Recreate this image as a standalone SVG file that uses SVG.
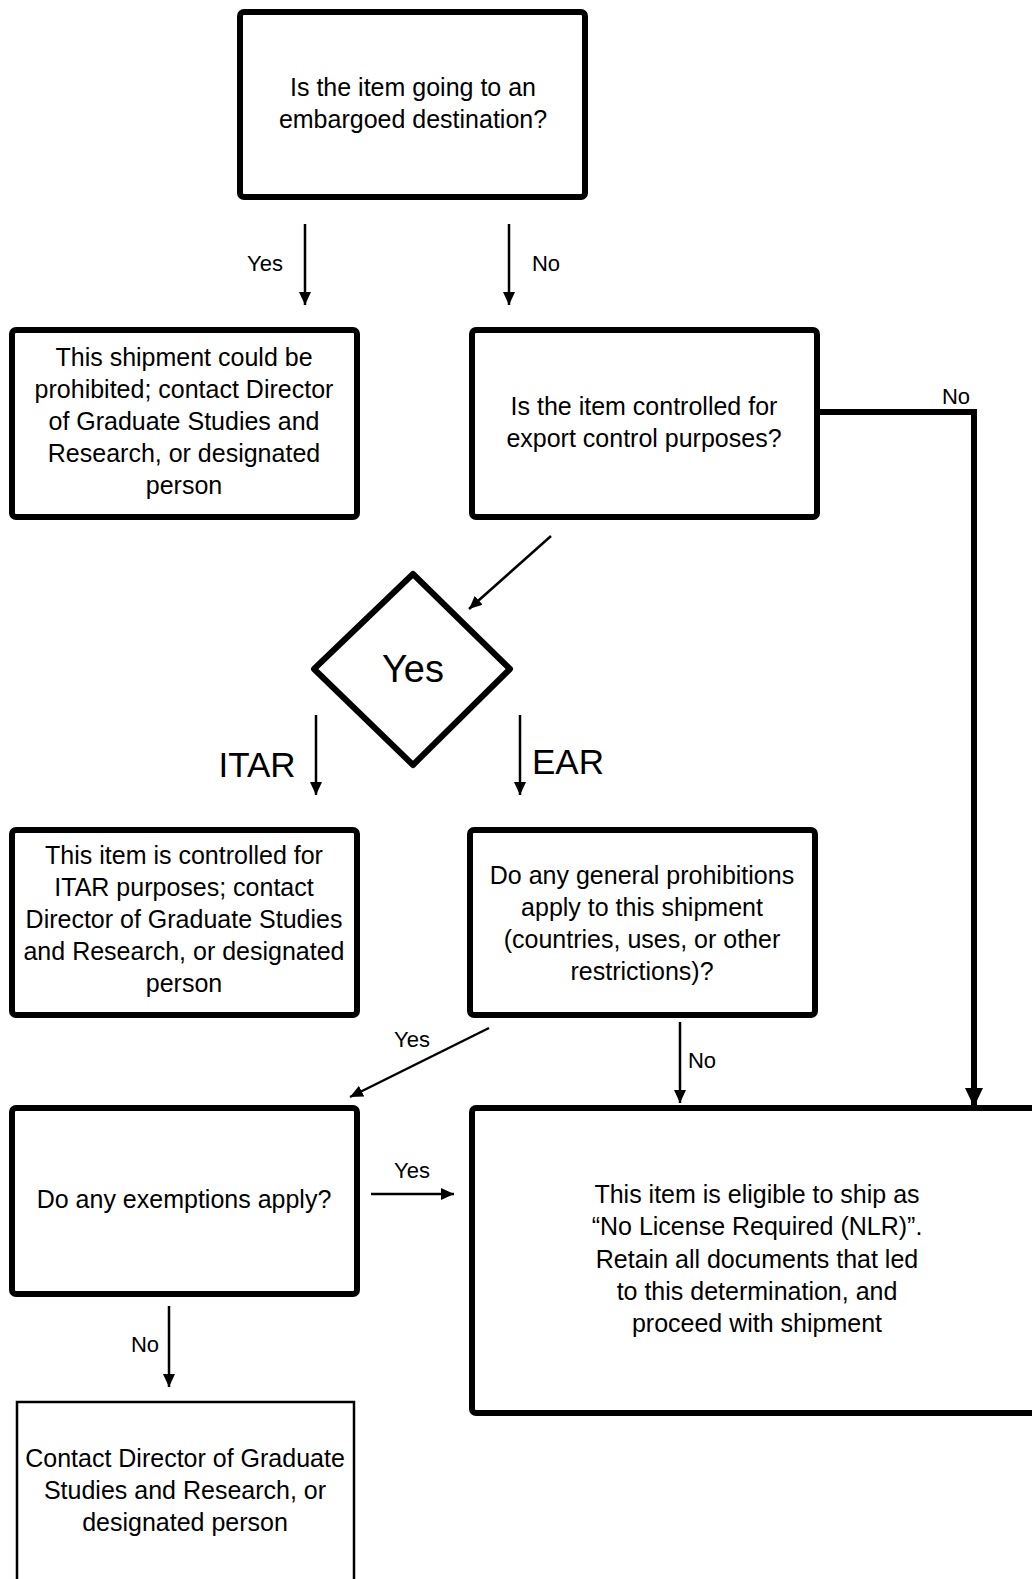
<svg xmlns="http://www.w3.org/2000/svg" width="1032" height="1579" viewBox="0 0 1032 1579">
<style>
.box{fill:#fff;stroke:#000;stroke-width:6;stroke-linejoin:round}
.thinbox{fill:#fff;stroke:#000;stroke-width:2.5}
.t{font-family:"Liberation Sans",Arial,sans-serif;font-size:25px;fill:#000;text-anchor:middle}
.lbl{font-family:"Liberation Sans",Arial,sans-serif;font-size:22px;fill:#000;text-anchor:middle}
.big{font-family:"Liberation Sans",Arial,sans-serif;font-size:35px;fill:#000;text-anchor:middle}
.c{fill:none;stroke:#000;stroke-width:2.5}
.ck{fill:none;stroke:#000;stroke-width:6}
</style>
<defs>
<marker id="ah" markerUnits="userSpaceOnUse" markerWidth="14" markerHeight="14" viewBox="0 0 14 14" refX="13" refY="7" orient="auto">
<path d="M0,1 L13,7 L0,13 Z" fill="#000"/>
</marker>
<marker id="ahk" markerUnits="userSpaceOnUse" markerWidth="20" markerHeight="20" viewBox="0 0 20 20" refX="19" refY="10" orient="auto">
<path d="M0,1 L19,10 L0,19 Z" fill="#000"/>
</marker>
</defs>

<g id="connectors">
<line class="c" x1="305" y1="224" x2="305" y2="305" marker-end="url(#ah)"/>
<line class="c" x1="509" y1="224" x2="509" y2="305" marker-end="url(#ah)"/>
<polyline class="ck" points="817,412 974,412 974,1107" marker-end="url(#ahk)"/>
<line class="c" x1="551" y1="536" x2="469" y2="609" marker-end="url(#ah)"/>
<line class="c" x1="316" y1="715" x2="316" y2="795" marker-end="url(#ah)"/>
<line class="c" x1="520" y1="715" x2="520" y2="795" marker-end="url(#ah)"/>
<line class="c" x1="489" y1="1028" x2="350" y2="1097" marker-end="url(#ah)"/>
<line class="c" x1="680" y1="1022" x2="680" y2="1103" marker-end="url(#ah)"/>
<line class="c" x1="371" y1="1194" x2="454" y2="1194" marker-end="url(#ah)"/>
<line class="c" x1="169" y1="1306" x2="169" y2="1387" marker-end="url(#ah)"/>
<text class="lbl" x="265" y="271">Yes</text>
<text class="lbl" x="546" y="271">No</text>
<text class="lbl" x="956" y="404">No</text>
<text class="big" x="257" y="777">ITAR</text>
<text class="big" x="568" y="774">EAR</text>
<text class="lbl" x="412" y="1047">Yes</text>
<text class="lbl" x="702" y="1068">No</text>
<text class="lbl" x="412" y="1178">Yes</text>
<text class="lbl" x="145" y="1352">No</text>
</g>

<g id="n1">
<rect class="box" x="240" y="12" width="345" height="185" rx="4"/>
<text class="t" x="413" y="96">Is the item going to an</text>
<text class="t" x="413" y="128">embargoed destination?</text>
</g>

<g id="n2">
<rect class="box" x="12" y="330" width="345" height="187" rx="4"/>
<text class="t" x="184" y="366">This shipment could be</text>
<text class="t" x="184" y="398">prohibited; contact Director</text>
<text class="t" x="184" y="430">of Graduate Studies and</text>
<text class="t" x="184" y="462">Research, or designated</text>
<text class="t" x="184" y="494">person</text>
</g>

<g id="n3">
<rect class="box" x="472" y="330" width="345" height="187" rx="4"/>
<text class="t" x="644" y="415">Is the item controlled for</text>
<text class="t" x="644" y="447">export control purposes?</text>
</g>

<g id="n4">
<path class="box" d="M413,574 L510,669 L413,765 L314,669 Z"/>
<text class="big" x="413" y="682" style="font-size:38px">Yes</text>
</g>

<g id="n5">
<rect class="box" x="12" y="830" width="345" height="185" rx="4"/>
<text class="t" x="184" y="864">This item is controlled for</text>
<text class="t" x="184" y="896">ITAR purposes; contact</text>
<text class="t" x="184" y="928">Director of Graduate Studies</text>
<text class="t" x="184" y="960">and Research, or designated</text>
<text class="t" x="184" y="992">person</text>
</g>

<g id="n6">
<rect class="box" x="470" y="830" width="345" height="185" rx="4"/>
<text class="t" x="642" y="884">Do any general prohibitions</text>
<text class="t" x="642" y="916">apply to this shipment</text>
<text class="t" x="642" y="948">(countries, uses, or other</text>
<text class="t" x="642" y="980">restrictions)?</text>
</g>

<g id="n7">
<rect class="box" x="12" y="1108" width="345" height="186" rx="4"/>
<text class="t" x="184" y="1208">Do any exemptions apply?</text>
</g>

<g id="n8">
<rect class="box" x="472" y="1108" width="600" height="305" rx="4"/>
<text class="t" x="757" y="1203">This item is eligible to ship as</text>
<text class="t" x="757" y="1235">“No License Required (NLR)”.</text>
<text class="t" x="757" y="1268">Retain all documents that led</text>
<text class="t" x="757" y="1300">to this determination, and</text>
<text class="t" x="757" y="1332">proceed with shipment</text>
</g>

<g id="n9">
<rect class="thinbox" x="17" y="1402" width="337" height="250"/>
<text class="t" x="185" y="1467">Contact Director of Graduate</text>
<text class="t" x="185" y="1499">Studies and Research, or</text>
<text class="t" x="185" y="1531">designated person</text>
</g>
</svg>
